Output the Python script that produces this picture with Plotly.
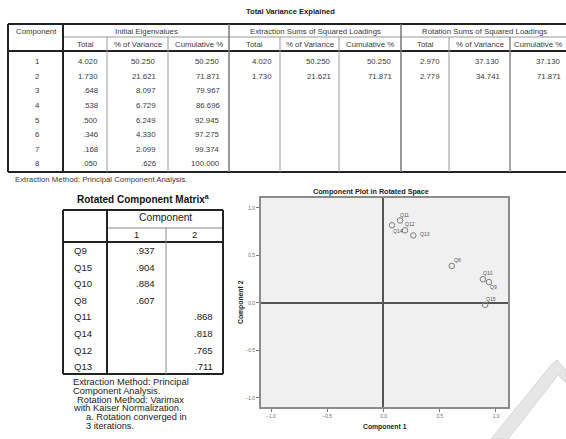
import plotly.graph_objects as go

W, H = 566, 439

# ---------------- data ----------------
components = [1, 2, 3, 4, 5, 6, 7, 8]
init_total = [4.020, 1.730, 0.648, 0.538, 0.500, 0.346, 0.168, 0.050]
init_pct = [50.250, 21.621, 8.097, 6.729, 6.249, 4.330, 2.099, 0.626]
init_cum = [50.250, 71.871, 79.967, 86.696, 92.945, 97.275, 99.374, 100.000]
extr_total = [4.020, 1.730]
extr_pct = [50.250, 21.621]
extr_cum = [50.250, 71.871]
rot_total = [2.970, 2.779]
rot_pct = [37.130, 34.741]
rot_cum = [37.130, 71.871]

group_headers = ["Initial Eigenvalues", "Extraction Sums of Squared Loadings",
                 "Rotation Sums of Squared Loadings"]
sub_headers = ["Total", "% of Variance", "Cumulative %"]

items = ["Q9", "Q15", "Q10", "Q8", "Q11", "Q14", "Q12", "Q13"]
matrix_c1 = [0.937, 0.904, 0.884, 0.607, None, None, None, None]
matrix_c2 = [None, None, None, None, 0.868, 0.818, 0.765, 0.711]

plot_c1 = [0.937, 0.904, 0.884, 0.607, 0.147, 0.076, 0.191, 0.265]
plot_c2 = [0.220, -0.020, 0.250, 0.390, 0.868, 0.818, 0.765, 0.711]
axis_ticks = [-1.0, -0.5, 0.0, 0.5, 1.0]

# ---------------- helpers ----------------
FONT = "Liberation Sans, Arial, sans-serif"
annotations = []
shapes = []


def fmt(v):
    s = f"{v:.3f}"
    return s[1:] if s.startswith("0") else s


def px(x):
    return x / W


def py(y):
    return 1 - y / H


def txt(x, y, text, size, anchor="center", bold=False, color="#3a3a3a", angle=0):
    annotations.append(dict(
        x=px(x), y=py(y), xref="paper", yref="paper",
        text=f"<b>{text}</b>" if bold else text, showarrow=False,
        xanchor=anchor, yanchor="middle", textangle=angle, borderpad=0,
        font=dict(family=FONT, size=size, color=color)))


def line(x0, y0, x1, y1, color="#222", width=1):
    shapes.append(dict(type="line", xref="paper", yref="paper",
                       x0=px(x0), y0=py(y0), x1=px(x1), y1=py(y1),
                       line=dict(color=color, width=width), layer="above"))


# ---------------- Total Variance Explained table ----------------
fs1 = 7.8
cols = [8, 63, 107, 168, 229, 280, 339, 401, 449, 510, 566]
right_x = [99, 157, 221, 273, 332, 393, 441, 501, 562]
top, grp_line, hdr_bot, bot = 24, 37, 51, 172
row_y0, row_dy = 61.7, 14.6

txt(290, 12, "Total Variance Explained", 7.6, bold=True, color="#222")
txt(36, 31, "Component", fs1)
txt(146, 31, group_headers[0], fs1)
txt(315, 31, group_headers[1], fs1)
txt(484, 31, group_headers[2], fs1)
for g in range(3):
    for k in range(3):
        c = 1 + g * 3 + k
        txt((cols[c] + cols[c + 1]) / 2, 44.5, sub_headers[k], fs1)

table_cols = [init_total, init_pct, init_cum, extr_total, extr_pct, extr_cum,
              rot_total, rot_pct, rot_cum]
for i, comp in enumerate(components):
    y = row_y0 + i * row_dy
    txt(37, y, str(comp), fs1)
    for c, arr in enumerate(table_cols):
        if i < len(arr):
            txt(right_x[c], y, fmt(arr[i]), fs1, anchor="right")

# lines
line(8, top, W, top, "#222", 2)
line(8, hdr_bot, W, hdr_bot, "#222", 2)
line(8, bot, W, bot, "#222", 2)
line(63, grp_line, W, grp_line, "#999", 1)
line(8, top, 8, bot, "#222", 2)
line(63, top, 63, bot, "#222", 2)
for xg in [229, 401]:
    line(xg, top, xg, bot, "#777", 1.5)
for xc in [107, 168, 280, 339, 449]:
    line(xc, grp_line, xc, bot, "#999", 1)
line(510, grp_line, 510, bot, "#888", 1.5)
txt(14, 179.5, "Extraction Method: Principal Component Analysis.", fs1, anchor="left")

# ---------------- Rotated Component Matrix ----------------
fs2 = 9.6
txt(143, 199, "Rotated Component Matrix<sup>a</sup>", 10, bold=True, color="#111")
mL, mC1, mC2, mR = 63, 107, 166, 223
mTop, mMid, mHdr, mBot = 210, 228, 242, 374
line(mL, mTop, mR, mTop, "#222", 2)
line(mC1, mMid, mR, mMid, "#888", 1)
line(mL, mHdr, mR, mHdr, "#222", 2)
line(mL, mBot, mR, mBot, "#222", 2)
line(mL, mTop, mL, mBot, "#222", 2)
line(mC1, mTop, mC1, mBot, "#222", 2)
line(mC2, mMid, mC2, mBot, "#888", 1)
line(mR, mTop, mR, mBot, "#222", 2)
txt(165, 217.5, "Component", 10.3, color="#222")
txt(136.5, 234.5, "1", fs2, color="#222")
txt(194.5, 234.5, "2", fs2, color="#222")
for i, it in enumerate(items):
    y = 250.7 + i * 16.57
    txt(72.5, y, it, fs2, anchor="left", color="#222")
    if matrix_c1[i] is not None:
        txt(156, y, fmt(matrix_c1[i]), fs2, anchor="right", color="#222")
    if matrix_c2[i] is not None:
        txt(214, y, fmt(matrix_c2[i]), fs2, anchor="right", color="#222")

foot = [(72, 382.3, "Extraction Method: Principal"),
        (72, 390.8, "Component Analysis."),
        (75.5, 399.6, "Rotation Method: Varimax"),
        (72, 408.3, "with Kaiser Normalization."),
        (85, 416.8, "a. Rotation converged in"),
        (85, 425.6, "3 iterations.")]
for x, y, t in foot:
    txt(x, y, t, 9.3, anchor="left", color="#222")

# ---------------- Component plot ----------------
fig = go.Figure()
fig.add_trace(go.Scatter(
    x=plot_c1, y=plot_c2, mode="markers", text=items, hoverinfo="text",
    marker=dict(symbol="circle-open", size=5.5, color="#7a7a7a",
                line=dict(width=1, color="#7a7a7a")),
    showlegend=False))

label_shift = {"Q9": (4.5, -5), "Q15": (5.5, 5.5), "Q10": (5.5, 6), "Q8": (5.5, 5.5),
               "Q11": (4, 5.7), "Q14": (5.7, -5.3), "Q12": (5, 6.3), "Q13": (11.7, 1)}
for it, xv, yv in zip(items, plot_c1, plot_c2):
    dx, dy = label_shift[it]
    annotations.append(dict(x=xv, y=yv, xref="x", yref="y", text=it, showarrow=False,
                            xshift=dx, yshift=dy, borderpad=0,
                            font=dict(family=FONT, size=5, color="#555")))

txt(371, 191, "Component Plot in Rotated Space", 7.2, bold=True, color="#222")
txt(385, 427, "Component 1", 6.8, bold=True, color="#222")
txt(241, 302, "Component 2", 6.8, bold=True, color="#222", angle=-90)

# watermark-like light shape
wm = [(491, 439), (552, 364), (557, 360), (566, 370), (566, 383), (558, 375), (508, 439)]
path = "M " + " L ".join(f"{px(x):.4f},{py(y):.4f}" for x, y in wm) + " Z"
shapes.append(dict(type="path", xref="paper", yref="paper", path=path,
                   fillcolor="#e6e6e6", line=dict(color="#d6d6d6", width=1), layer="below"))

axis_common = dict(showgrid=False, zeroline=True, zerolinecolor="#555", zerolinewidth=1.5,
                   showline=True, mirror=True, linecolor="#8c8c8c", linewidth=2,
                   ticks="outside", ticklen=3, tickwidth=1, tickcolor="#777",
                   tickvals=axis_ticks, tickformat=".1f",
                   tickfont=dict(family=FONT, size=4.8, color="#666"), fixedrange=True)

fig.update_layout(
    width=W, height=H, autosize=False,
    margin=dict(l=0, r=0, t=0, b=0),
    paper_bgcolor="white", plot_bgcolor="#f0f0f0",
    xaxis=dict(domain=[px(261), px(508)], range=[-1.089, 1.107], **axis_common),
    yaxis=dict(domain=[py(407), py(198)], range=[-1.095, 1.105], **axis_common),
    annotations=annotations, shapes=shapes,
)

fig.write_html("out.html", config={"displayModeBar": False},
               post_script="document.body.style.margin='0px';document.body.style.overflow='hidden';")
